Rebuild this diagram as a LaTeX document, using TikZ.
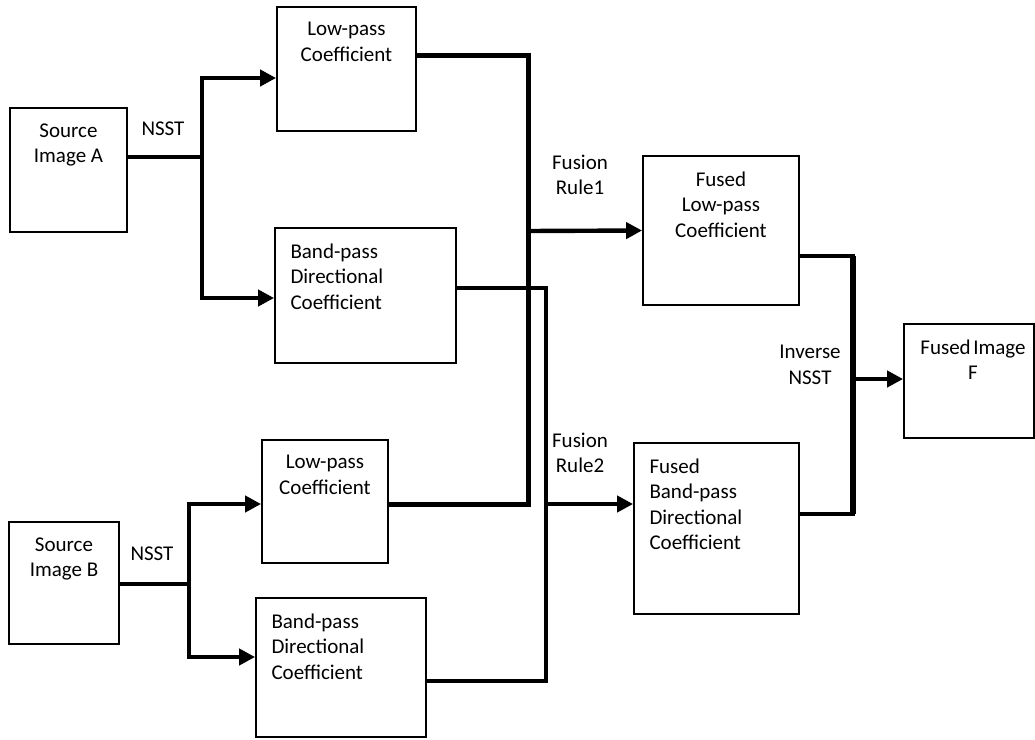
\documentclass[tikz,border=0pt]{standalone}
\usepackage{fontspec}
\setmainfont{Carlito}
\usetikzlibrary{arrows.meta}

\tikzset{
  blk/.style={draw, line width=0.9pt, inner sep=0pt},
  ctxt/.style={anchor=north, align=center, yshift=-8pt, inner sep=0pt},
  ltxt/.style={anchor=north west, align=left, xshift=8pt, yshift=-8pt, inner sep=0pt},
  thk/.style={line width=2.2pt},
  med/.style={line width=1.9pt},
  arr/.style={-{Triangle[length=8pt,width=8pt]}},
}

\begin{document}
\begin{tikzpicture}[x=0.5pt,y=-0.5pt,font=\fontsize{10.5}{12.8}\selectfont]
  \useasboundingbox (0,0) rectangle (1035,740);

  % input blocks
  \node[blk, minimum width=58.5pt, minimum height=62pt,
        label={[ctxt]north:Source\\Image A}] (srcA) at (68.5,170) {};
  \node[blk, minimum width=55pt, minimum height=61pt,
        label={[ctxt]north:Source\\Image B}] (srcB) at (64,583) {};

  % decomposed coefficients
  \node[blk, minimum width=69.5pt, minimum height=62pt,
        label={[ctxt]north:Low-pass\\Coefficient}] (lpA) at (346.5,69) {};
  \node[blk, minimum width=90.5pt, minimum height=67.5pt,
        label={[ltxt]north west:Band-pass\\Directional\\Coefficient}] (bpA) at (365.5,295.5) {};
  \node[blk, minimum width=63pt, minimum height=61.5pt,
        label={[ctxt]north:Low-pass\\Coefficient}] (lpB) at (325,501.5) {};
  \node[blk, minimum width=85pt, minimum height=69.5pt,
        label={[ltxt]north west:Band-pass\\Directional\\Coefficient}] (bpB) at (341,667.5) {};

  % fused coefficients
  \node[blk, minimum width=78pt, minimum height=74.5pt,
        label={[ctxt]north:Fused\\Low-pass\\Coefficient}] (flp) at (721,230.5) {};
  \node[blk, minimum width=82.5pt, minimum height=85.5pt,
        label={[ltxt]north west:Fused\\Band-pass\\Directional\\Coefficient}] (fbp) at (716.5,528.5) {};
  \node[blk, minimum width=65pt, minimum height=57pt,
        label={[ctxt,xshift=2pt]north:Fused\hspace{0.12em}Image\\F}] (fimg) at (969,381) {};

  % junctions
  \coordinate (jA) at (202,157);
  \coordinate (jB) at (189,584);
  \coordinate (f1) at (528,231);
  \coordinate (f2) at (546,504);
  \coordinate (f3) at (853,379);

  % labels
  \node[align=center] (nsstA) at (163,129) {NSST};
  \node[align=center] (nsstB) at (152,554) {NSST};
  \node[align=center] (rule1) at (580,175) {Fusion\\Rule1};
  \node[align=center] (rule2) at (580,453) {Fusion\\Rule2};
  \node[align=center] (inv) at (810,365) {Inverse\\NSST};

  % NSST of A
  \draw[thk] ([yshift=6.5pt]srcA.east) -- (jA);
  \draw[thk,arr] (jA) |- ([yshift=-4.5pt]lpA.west);
  \draw[thk,arr] (jA) |- ([yshift=-1.25pt]bpA.west);

  % NSST of B
  \draw[thk] ([yshift=-0.5pt]srcB.east) -- (jB);
  \draw[thk,arr] (jB) |- ([yshift=-1.25pt]lpB.west);
  \draw[thk,arr] (jB) |- ([yshift=5.25pt]bpB.west);

  % fusion rule 1
  \draw[line width=2.5pt] ([yshift=7pt]lpA.east) -| (f1) |- ([yshift=-1.25pt]lpB.east);
  \draw[thk,arr] (f1) -- (flp.west);

  % fusion rule 2
  \draw[med] ([yshift=3.75pt]bpA.east) -| (f2) |- ([yshift=-6.75pt]bpB.east);
  \draw[thk,arr] (f2) -- ([yshift=12.25pt]fbp.west);

  % inverse NSST
  \draw[thk] ([yshift=-12.75pt]flp.east) -| (f3);
  \draw[med] (f3) |- ([yshift=7.25pt]fbp.east);
  \draw[line width=3pt] (f3 |- 0,256) -- (f3 |- 0,514);
  \draw[thk,arr] (f3) -- ([yshift=1pt]fimg.west);
\end{tikzpicture}
\end{document}
